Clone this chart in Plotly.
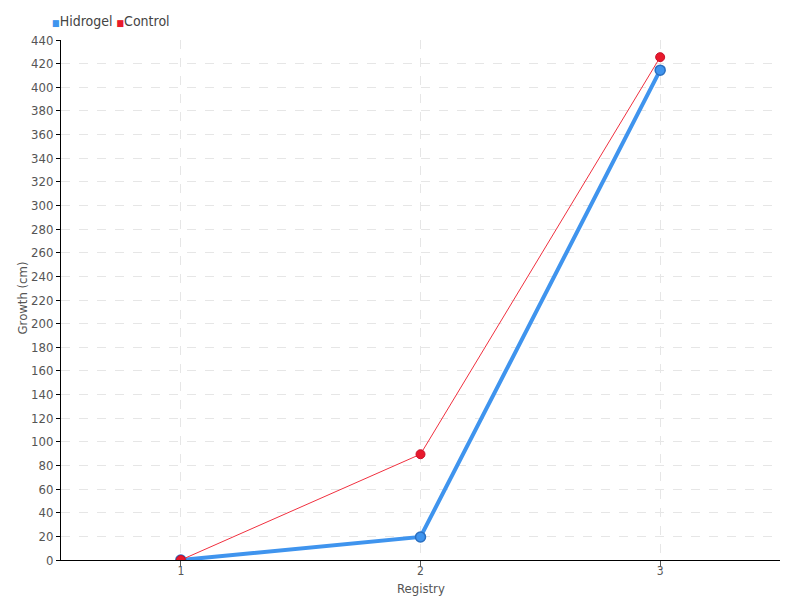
import plotly.graph_objects as go

registry = [1, 2, 3]
hidrogel = [0, 19.5, 414.5]
control = [0, 89.5, 425.5]
y_ticks = list(range(0, 441, 20))

FONT = "DejaVu Sans Condensed, Liberation Sans Narrow, sans-serif"
BLUE = "#3f94ee"
RED = "#e8192c"

fig = go.Figure()
fig.add_trace(go.Scatter(
    x=registry, y=hidrogel, name="Hidrogel", mode="lines+markers",
    line=dict(color=BLUE, width=4),
    marker=dict(size=10, color=BLUE, line=dict(color="#2a6fc0", width=1.5)),
    showlegend=False,
))
fig.add_trace(go.Scatter(
    x=registry, y=control, name="Control", mode="lines+markers",
    line=dict(color="#f0303f", width=1),
    marker=dict(size=9, color=RED, line=dict(color="#c8102a", width=1)),
    showlegend=False,
))

fig.add_annotation(
    xref="paper", yref="paper", x=-0.0153, y=1.0365, xanchor="left", yanchor="middle",
    showarrow=False,
    text=(f"<span style='color:{BLUE};font-size:9px'>■</span>Hidrogel "
          f"<span style='color:{RED};font-size:9px'>■</span>Control"),
    font=dict(size=14, color="#444444", family=FONT),
)
fig.add_annotation(
    xref="paper", yref="paper", x=-0.0535, y=0.504, xanchor="center", yanchor="middle",
    showarrow=False, textangle=-90, text="Growth (cm)",
    font=dict(size=13, color="#555555", family=FONT),
)
fig.add_annotation(
    xref="paper", yref="paper", x=0.5, y=-0.054, xanchor="center", yanchor="middle",
    showarrow=False, text="Registry",
    font=dict(size=13, color="#555555", family=FONT),
)

fig.update_layout(
    width=792, height=592,
    paper_bgcolor="white", plot_bgcolor="white",
    margin=dict(l=53, r=20, t=32, b=40, autoexpand=False),
    font=dict(family=FONT, size=13, color="#555555"),
    showlegend=False,
    xaxis=dict(
        range=[0.5, 3.5], tickvals=registry, ticktext=[str(v) for v in registry],
        showline=True, linecolor="black", linewidth=1,
        ticks="outside", ticklen=0,
        minor=dict(tickvals=registry, ticks="outside", ticklen=6, tickcolor="#555555", showgrid=False),
        showgrid=True, gridcolor="#e6e6e6", griddash="dash",
        zeroline=False,
        tickfont=dict(size=12, color="#555555"),
    ),
    yaxis=dict(
        range=[0, 440], tickvals=y_ticks,
        showline=True, linecolor="black", linewidth=1,
        ticks="outside", ticklen=4, tickcolor="black",
        showgrid=True, gridcolor="#e6e6e6", griddash="dash",
        zeroline=False,
        tickfont=dict(size=13, color="#555555"),
    ),
)

fig.write_html("out.html")
